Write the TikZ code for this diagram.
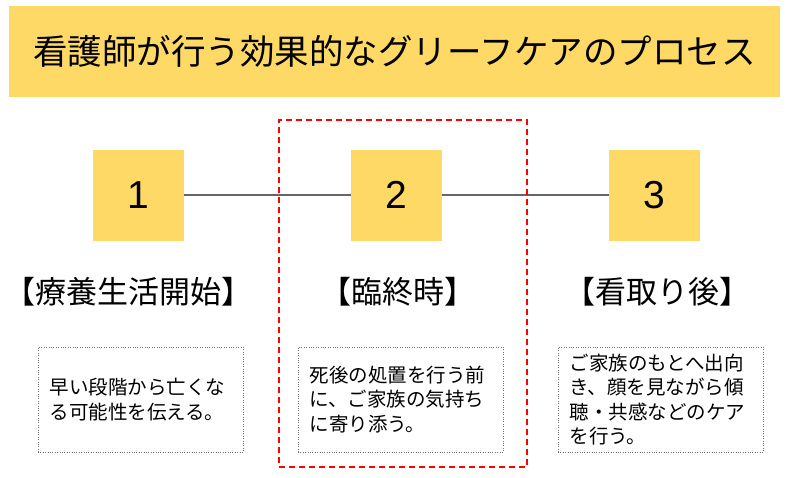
\documentclass[tikz,border=0pt]{standalone}
\usepackage{fontspec}
\setmainfont{Noto Sans CJK JP}
\newfontfamily\numfont{Liberation Sans}
\usepackage{tikz}
\usetikzlibrary{positioning}
\definecolor{gold}{HTML}{FFD966}

\begin{document}
\begin{tikzpicture}[
  x=1pt, y=-1pt,
  banner/.style={fill=gold, minimum width=771pt, minimum height=91pt, inner sep=0pt, font=\fontsize{34.5}{36}\selectfont},
  numbox/.style={fill=gold, minimum width=91pt, minimum height=91pt, inner sep=0pt, font=\numfont\fontsize{39}{39}\selectfont},
  stage/.style={inner sep=0pt, font=\fontsize{31}{34}\selectfont},
  note/.style={draw=gray!90!black, dotted, minimum width=205pt, minimum height=105pt, text width=182pt, inner xsep=11.5pt, align=left, font=\fontsize{19.5}{24.5}\selectfont},
  link/.style={draw=black!60, line width=1.5pt},
  focus/.style={draw=red, dashed, line width=1.5pt, dash pattern=on 6pt off 4pt, minimum width=248pt, minimum height=347pt, inner sep=0pt}
]
\useasboundingbox (0,0) rectangle (795,477);

\node[banner] (title) at (394.5,51.5) {看護師が行う効果的なグリーフケアのプロセス};

\node[numbox] (n1) at (138.5,195) {1};
\node[numbox] (n2) at (396.5,195) {2};
\node[numbox] (n3) at (654.5,195) {3};

\draw[link] (n1) -- (n2);
\draw[link] (n2) -- (n3);

\node[stage] (s1) at (129,292) {【療養生活開始】};
\node[stage] (s2) at (398,292) {【臨終時】};
\node[stage] (s3) at (657,292) {【看取り後】};

\node[note] (t1) at (140.5,399.5) {早い段階から亡くな\\る可能性を伝える。};
\node[note] (t2) at (400.5,399.5) {死後の処置を行う前\\に、ご家族の気持ち\\に寄り添う。};
\node[note] (t3) at (660.5,399.5) {ご家族のもとへ出向\\き、顔を見ながら傾\\聴・共感などのケア\\を行う。};

\node[focus] (now) at (403,293.5) {};
\end{tikzpicture}
\end{document}
